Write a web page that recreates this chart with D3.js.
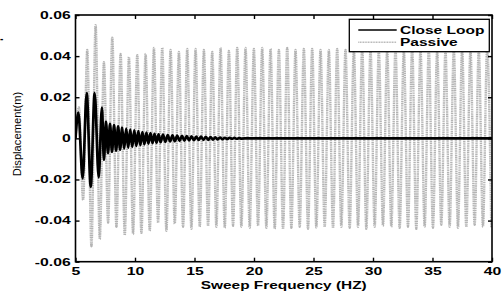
<!DOCTYPE html>
<html>
<head>
  <meta charset="utf-8">
  <title>Sweep response</title>
  <script src="https://d3js.org/d3.v7.min.js"></script>
  <style>
    body { margin: 0; background: #fff; }
    svg { display: block; }
    text { font-family: "Liberation Sans", Arial, sans-serif; fill: #000; }
  </style>
</head>
<body>
  <svg width="504" height="294"></svg>
  <script>
    // close loop response: extrema (Hz, m)
    var closeHz = [5.00, 5.24, 5.60, 5.94, 6.28, 6.61, 6.95, 7.22,
      7.39, 7.56, 7.73, 7.90, 8.07, 8.24, 8.41, 8.58,
      8.75, 8.92, 9.09, 9.26, 9.43, 9.60, 9.77, 9.94,
      10.11, 10.28, 10.45, 10.62, 10.79, 10.96, 11.13, 11.30,
      11.47, 11.64, 11.81, 11.98, 12.15, 12.35, 12.55, 12.75,
      12.95, 13.15, 13.35, 13.55, 13.75, 13.95, 14.15, 14.35,
      14.55, 14.75, 14.95, 15.15, 15.35, 15.55, 15.75, 15.95,
      16.15, 16.35, 16.55, 16.75, 16.95, 17.15, 17.35, 17.55,
      17.75, 17.95, 18.15, 18.35, 18.55, 18.75, 18.95, 19.50,
      40.00];
    var closeDisp = [0, 0.0125, -0.0195, 0.022, -0.0235, 0.022, -0.019, 0.015,
      -0.0105, 0.0082, -0.0072, 0.0070, -0.0066, 0.0064, -0.0060, 0.0058,
      -0.0055, 0.0052, -0.0050, 0.0047, -0.0045, 0.0043, -0.0041, 0.0039,
      -0.0037, 0.0035, -0.0033, 0.0031, -0.0029, 0.0028, -0.0026, 0.0025,
      -0.0023, 0.0022, -0.0021, 0.0020, -0.0019, 0.0018, -0.0017, 0.0016,
      -0.0015, 0.0014, -0.0014, 0.0013, -0.0012, 0.0012, -0.0011, 0.0011,
      -0.0010, 0.0010, -0.0009, 0.0009, -0.0008, 0.0008, -0.0007, 0.0007,
      -0.0007, 0.0006, -0.0006, 0.0005, -0.0005, 0.0004, -0.0004, 0.0003,
      -0.0003, 0.0003, -0.0002, 0.0002, -0.0002, 0.0001, -0.0001, 0,
      0];

    // passive response: upper and lower peaks
    var passiveStart = [5, 0];
    var peakHz = [5.29, 5.99, 6.69, 7.39, 8.09, 8.79, 9.49, 10.19, 10.89, 11.59,
      12.29, 12.99, 13.69, 14.39, 15.09, 15.79, 16.49, 17.19, 17.89, 18.59,
      19.29, 19.99, 20.69, 21.39, 22.09, 22.79, 23.49, 24.19, 24.89, 25.59,
      26.29, 26.99, 27.69, 28.39, 29.09, 29.79, 30.49, 31.19, 31.89, 32.59,
      33.29, 33.99, 34.69, 35.39, 36.09, 36.79, 37.49, 38.19, 38.89, 39.59];
    var peakDisp = [0.015, 0.043, 0.055, 0.037, 0.049, 0.041, 0.0395, 0.0405, 0.041, 0.044,
      0.044, 0.043, 0.042, 0.0435, 0.0435, 0.043, 0.042, 0.044, 0.0425, 0.044,
      0.044, 0.0435, 0.044, 0.0435, 0.043, 0.044, 0.043, 0.0435, 0.0435, 0.043,
      0.043, 0.0435, 0.043, 0.0435, 0.044, 0.043, 0.0425, 0.043, 0.0435, 0.043,
      0.044, 0.043, 0.0435, 0.043, 0.0425, 0.043, 0.0435, 0.043, 0.043, 0.0435];
    var troughHz = [5.64, 6.34, 7.04, 7.74, 8.44, 9.14, 9.84, 10.54, 11.24, 11.94,
      12.64, 13.34, 14.04, 14.74, 15.44, 16.14, 16.84, 17.54, 18.24, 18.94,
      19.64, 20.34, 21.04, 21.74, 22.44, 23.14, 23.84, 24.54, 25.24, 25.94,
      26.64, 27.34, 28.04, 28.74, 29.44, 30.14, 30.84, 31.54, 32.24, 32.94,
      33.64, 34.34, 35.04, 35.74, 36.44, 37.14, 37.84, 38.54, 39.24, 39.94];
    var troughDisp = [-0.030, -0.0525, -0.049, -0.041, -0.043, -0.047, -0.0465, -0.046, -0.045, -0.041,
      -0.045, -0.0415, -0.043, -0.044, -0.043, -0.0425, -0.043, -0.0435, -0.0425, -0.043,
      -0.0435, -0.0425, -0.0435, -0.044, -0.044, -0.0435, -0.043, -0.044, -0.0435, -0.043,
      -0.0435, -0.043, -0.0435, -0.043, -0.044, -0.043, -0.0425, -0.043, -0.0435, -0.043,
      -0.044, -0.043, -0.0435, -0.042, -0.043, -0.0435, -0.043, -0.042, -0.043, -0.0435];

    var xTicks = [5, 10, 15, 20, 25, 30, 35, 40];
    var yTicks = [-0.06, -0.04, -0.02, 0, 0.02, 0.04, 0.06];
    var legendLabels = ["Close Loop", "Passive"];

    var svg = d3.select("svg");
    var margin = { top: 15, right: 12, bottom: 32.3, left: 75.5 };
    var width = +svg.attr("width") - margin.left - margin.right;
    var height = +svg.attr("height") - margin.top - margin.bottom;
    var g = svg.append("g").attr("transform", "translate(" + margin.left + "," + margin.top + ")");

    var x = d3.scaleLinear().domain([5, 40]).range([0, width]);
    var y = d3.scaleLinear().domain([-0.06, 0.06]).range([height, 0]);
    var sx = 1.5; // the picture is stretched sideways
    var passiveColor = "#b4b4b4";

    g.append("clipPath").attr("id", "clip")
      .append("rect").attr("width", width).attr("height", height);

    // build the series
    var closeData = closeHz.map(function (h, i) { return [h, closeDisp[i]]; });
    var passiveData = [passiveStart];
    peakHz.forEach(function (h, i) {
      passiveData.push([h, peakDisp[i]]);
      passiveData.push([troughHz[i], troughDisp[i]]);
    });

    var line = d3.line()
      .x(function (d) { return x(d[0]); })
      .y(function (d) { return y(d[1]); })
      .curve(d3.curveMonotoneX);

    var plot = g.append("g").attr("clip-path", "url(#clip)");
    plot.append("path")
      .datum(passiveData)
      .attr("fill", "none")
      .attr("stroke", passiveColor)
      .attr("stroke-width", 2.4)
      .attr("stroke-dasharray", "1.2,0.6")
      .attr("d", line);
    plot.append("path")
      .datum(closeData)
      .attr("fill", "none")
      .attr("stroke", "#000")
      .attr("stroke-width", 2.7)
      .attr("stroke-linejoin", "round")
      .attr("d", line);

    // axes, ticks point inward on all four sides
    var fmt = function (d) { return d === 0 ? "0" : d.toFixed(2); };
    var xAxis = g.append("g")
      .attr("transform", "translate(0," + height + ")")
      .call(d3.axisBottom(x).tickValues(xTicks).tickSizeInner(-4).tickSizeOuter(0));
    xAxis.selectAll(".tick text")
      .attr("y", 13.5).attr("dy", 0)
      .attr("transform", "scale(" + sx + ",1)");
    var yAxis = g.append("g")
      .call(d3.axisLeft(y).tickValues(yTicks).tickFormat(fmt).tickSizeInner(-4).tickSizeOuter(0));
    yAxis.selectAll(".tick text")
      .attr("x", -4.8 / sx)
      .attr("transform", "scale(" + sx + ",1)");
    g.append("g")
      .call(d3.axisTop(x).tickValues(xTicks).tickFormat("").tickSizeInner(-4).tickSizeOuter(0));
    g.append("g")
      .attr("transform", "translate(" + width + ",0)")
      .call(d3.axisRight(y).tickValues(yTicks).tickFormat("").tickSizeInner(-4).tickSizeOuter(0));
    g.selectAll(".domain").remove();
    g.selectAll(".tick line").attr("stroke", "#000").attr("stroke-width", 1.4);
    g.selectAll(".tick text")
      .attr("font-family", "Liberation Sans, Arial, sans-serif")
      .attr("font-size", 10.5)
      .attr("font-weight", "bold")
      .attr("fill", "#000");

    g.append("rect")
      .attr("width", width).attr("height", height)
      .attr("fill", "none").attr("stroke", "#000").attr("stroke-width", 1.6);

    // axis titles
    svg.append("text")
      .attr("transform", "translate(" + (margin.left + width / 2) + ",289) scale(1.4,1)")
      .attr("text-anchor", "middle")
      .attr("font-size", 11)
      .attr("font-weight", "bold")
      .text("Sweep Frequency (HZ)");
    svg.append("text")
      .attr("transform", "translate(21.3,134) rotate(-90)")
      .attr("text-anchor", "middle")
      .attr("font-size", 11.2)
      .text("Displacement(m)");
    svg.append("text")
      .attr("x", 0).attr("y", 41.5)
      .attr("font-size", 10)
      .attr("font-weight", "bold")
      .text("-");

    // legend
    var legend = svg.append("g").attr("transform", "translate(349.3,19.3)");
    legend.append("rect")
      .attr("width", 140).attr("height", 32.4)
      .attr("fill", "#fff").attr("stroke", "#000").attr("stroke-width", 1.3);
    var styles = [
      { stroke: "#000", width: 1.5, dash: null },
      { stroke: passiveColor, width: 1.6, dash: "1,0.6" }
    ];
    legendLabels.forEach(function (name, i) {
      var row = legend.append("g").attr("transform", "translate(0," + (10.7 + i * 12.3) + ")");
      row.append("line")
        .attr("x1", 9).attr("x2", 47.4)
        .attr("stroke", styles[i].stroke)
        .attr("stroke-width", styles[i].width)
        .attr("stroke-dasharray", styles[i].dash);
      row.append("text")
        .attr("transform", "translate(50.7,3.7) scale(1.45,1)")
        .attr("font-size", 10.7)
        .attr("font-weight", "bold")
        .text(name);
    });
  </script>
</body>
</html>
